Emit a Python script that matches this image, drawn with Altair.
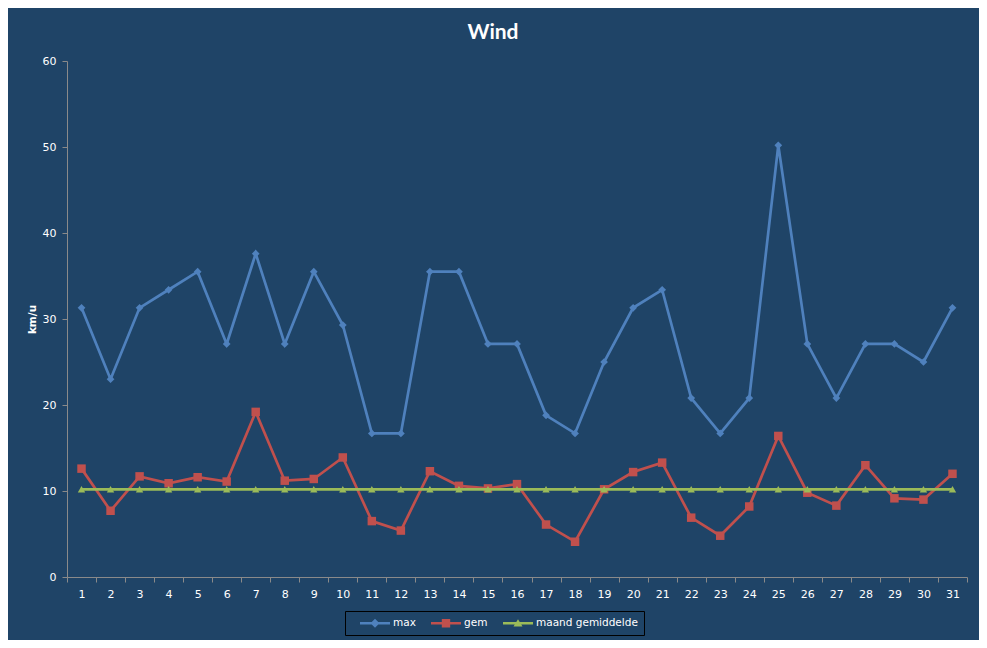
import altair as alt
import pandas as pd

days = list(range(1, 32))
max_vals = [31.3, 23.0, 31.3, 33.4, 35.5, 27.1, 37.6, 27.1, 35.5, 29.3, 16.7, 16.7, 35.5, 35.5, 27.1, 27.1,
            18.8, 16.7, 25.0, 31.3, 33.4, 20.8, 16.7, 20.8, 50.2, 27.1, 20.8, 27.1, 27.1, 25.0, 31.3]
gem_vals = [12.6, 7.7, 11.7, 10.9, 11.6, 11.1, 19.2, 11.2, 11.4, 13.9, 6.5, 5.4, 12.3, 10.6, 10.3, 10.8,
            6.1, 4.1, 10.2, 12.2, 13.3, 6.9, 4.8, 8.2, 16.4, 9.8, 8.3, 13.0, 9.15, 9.0, 12.0]
maand_vals = [10.2, 10.2, 10.2, 10.2, 10.2, 10.2, 10.2, 10.2, 10.2, 10.2, 10.2, 10.2, 10.2, 10.2, 10.2, 10.2,
              10.2, 10.2, 10.2, 10.2, 10.2, 10.2, 10.2, 10.2, 10.2, 10.2, 10.2, 10.2, 10.2, 10.2, 10.2]

series_names = ["max", "gem", "maand gemiddelde"]
series_colors = ["#4F81BD", "#C0504D", "#9BBB59"]
series_shapes = ["diamond", "square", "triangle-up"]
series_sizes = [60, 72, 55]
legend_paths = [
    "M-2.5,-0.22L2.5,-0.22L2.5,0.22L-2.5,0.22Z M0,-0.75L0.75,0L0,0.75L-0.75,0Z",
    "M-2.5,-0.22L2.5,-0.22L2.5,0.22L-2.5,0.22Z M-0.7,-0.7L0.7,-0.7L0.7,0.7L-0.7,0.7Z",
    "M-2.5,-0.22L2.5,-0.22L2.5,0.22L-2.5,0.22Z M0,-0.65L0.75,0.55L-0.75,0.55Z",
]

rows = []
for name, vals in zip(series_names, [max_vals, gem_vals, maand_vals]):
    for d, v in zip(days, vals):
        rows.append({"day": d, "value": v, "series": name})
df = pd.DataFrame(rows)

BG = "#1F4467"
AX = "#8A8A8A"
FONT = "DejaVu Sans"

x_enc = alt.X(
    "day:O",
    scale=alt.Scale(type="band", paddingInner=0, paddingOuter=0),
    axis=alt.Axis(title=None, labelAngle=0, tickBand="extent", domainColor=AX, tickColor=AX,
                  tickSize=5, labelColor="white", labelFont=FONT, labelFontSize=11, labelPadding=6,
                  grid=False),
)
y_enc = alt.Y(
    "value:Q",
    scale=alt.Scale(domain=[0, 60]),
    axis=alt.Axis(values=[0, 10, 20, 30, 40, 50, 60], domainColor=AX, tickColor=AX, tickSize=5,
                  labelColor="white", labelFont=FONT, labelFontSize=11, labelPadding=6, grid=False,
                  title="km/u", titleColor="white", titleFont=FONT, titleFontSize=10.5,
                  titleFontWeight="bold", titlePadding=5),
)
color_scale = alt.Scale(domain=series_names, range=series_colors)

leg = dict(title=None, orient="none", legendX=278, legendY=550, direction="horizontal",
           strokeColor="black", padding=6, labelColor="white", labelFont=FONT, labelFontSize=10.5,
           symbolSize=144, symbolStrokeWidth=0, symbolOffset=18, labelOffset=12, columnPadding=6)

base = alt.Chart(df)
legend_layer = base.transform_filter("false").mark_point(filled=True, opacity=1).encode(
    x=x_enc, y=y_enc,
    color=alt.Color("series:N", scale=color_scale, legend=alt.Legend(**leg)),
    shape=alt.Shape("series:N", scale=alt.Scale(domain=series_names, range=legend_paths),
                    legend=alt.Legend(**leg)),
)
layers = [legend_layer]
for name, shp, sz in zip(series_names, series_shapes, series_sizes):
    sub = base.transform_filter(alt.datum.series == name)
    layers.append(sub.mark_line(strokeWidth=2.7).encode(
        x=x_enc, y=y_enc, color=alt.Color("series:N", scale=color_scale, legend=None)))
    layers.append(sub.mark_point(filled=True, opacity=1, shape=shp, size=sz).encode(
        x=x_enc, y=y_enc, color=alt.Color("series:N", scale=color_scale, legend=None)))

chart = alt.layer(*layers).properties(
    width=900,
    height=516,
    autosize=alt.AutoSizeParams(type="none"),
    padding={"left": 59, "top": 53, "right": 12, "bottom": 63},
    background=BG,
    title=alt.Title("Wind", fontSize=21, font="Lato", fontWeight="bold", color="white",
                    dx=-24, offset=12, anchor="middle"),
).configure_view(strokeWidth=0)

chart.save("out.html", embed_options={"renderer": "svg", "actions": False})
